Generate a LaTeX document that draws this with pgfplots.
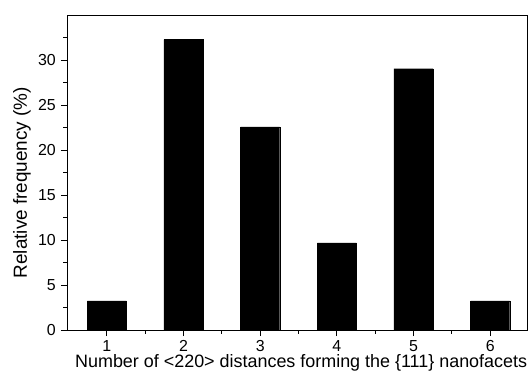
\documentclass[border=0pt]{standalone}
\usepackage{fontspec}
\setmainfont{Liberation Sans}
\usepackage{pgfplots}
\pgfplotsset{compat=1.18}
\begin{document}
\begin{tikzpicture}
\path[use as bounding box] (-67bp,-44bp) rectangle (463bp,330bp);
\begin{axis}[
  at={(0,0)}, anchor=south west,
  scale only axis,
  width=460bp, height=315bp,
  xmin=0.48, xmax=6.48,
  ymin=0, ymax=35,
  xtick={1,2,3,4,5,6},
  minor xtick={1.5,2.5,3.5,4.5,5.5},
  ytick={0,5,10,15,20,25,30},
  minor ytick={2.5,7.5,12.5,17.5,22.5,27.5,32.5},
  tick align=outside,
  xtick pos=bottom, ytick pos=left,
  major tick length=6bp, minor tick length=3.5bp,
  every tick/.style={black, line width=0.8pt},
  axis line style={line width=1pt},
  /pgf/number format/assume math mode=true,
  tick label style={font=\fontsize{16}{18}\selectfont, inner sep=0pt},
  yticklabel style={anchor=east, xshift=-5bp},
  xticklabel style={anchor=north, yshift=-4bp},
  xlabel={Number of <220> distances forming the \{111\} nanofacets},
  ylabel={Relative frequency (\%)},
  xlabel style={font=\fontsize{18}{20}\selectfont, at={(axis description cs:0.509,0)}, anchor=base, yshift=-37.7bp, inner sep=0pt},
  ylabel style={font=\fontsize{19}{21}\selectfont, at={(axis description cs:0,0.468)}, anchor=base, yshift=40bp, inner sep=0pt},
]
\addplot[ybar, bar width=0.51, fill=black, draw=black] coordinates {
  (1,3.23) (2,32.26) (3,22.58) (4,9.68) (5,29.03) (6,3.23)
};
\end{axis}
\end{tikzpicture}
\end{document}
